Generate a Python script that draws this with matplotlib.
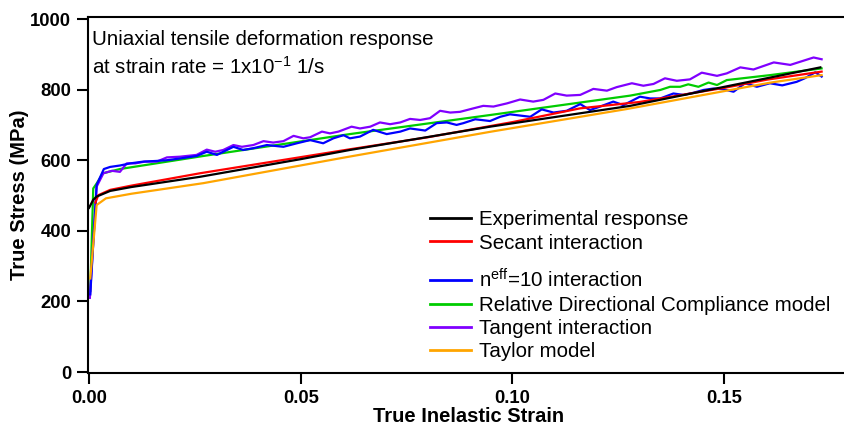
import matplotlib
matplotlib.use("Agg")
import matplotlib.pyplot as plt
from matplotlib.ticker import FixedLocator, FormatStrFormatter

plt.rcParams['font.family'] = ['Liberation Sans', 'DejaVu Sans']
plt.rcParams['mathtext.fontset'] = 'custom'
plt.rcParams['mathtext.rm'] = 'Liberation Sans'
plt.rcParams['mathtext.it'] = 'Liberation Sans'
plt.rcParams['mathtext.bf'] = 'Liberation Sans:bold'

# ---------------- data ----------------
exp_x = [0.0, 0.001, 0.0018, 0.005, 0.01, 0.0262, 0.05, 0.0616, 0.0947, 0.1278, 0.1608, 0.1727]
exp_y = [465, 488, 497, 513, 524, 553, 603, 629, 695, 754, 834, 863]

sec_x = [0.0015, 0.0022, 0.005, 0.01, 0.0262, 0.0616, 0.08, 0.10, 0.116, 0.13, 0.15, 0.16, 0.173]
sec_y = [480, 501, 516, 528, 563, 631, 665, 708, 747, 765, 805, 828, 851]

neff_x = [0.0003, 0.0018, 0.0035, 0.005, 0.0073, 0.0097, 0.0128, 0.016, 0.0184, 0.0215, 0.0254,
          0.0278, 0.0302, 0.0341, 0.0364, 0.0388, 0.0420, 0.0459, 0.0491, 0.0522, 0.0553, 0.0577,
          0.0601, 0.0616, 0.0640, 0.0671, 0.0703, 0.0735, 0.0758, 0.0794, 0.0821, 0.0845, 0.0868,
          0.0884, 0.0912, 0.0947, 0.0971, 0.0994, 0.1042, 0.1069, 0.1097, 0.1128, 0.1160, 0.1183,
          0.1207, 0.1238, 0.1262, 0.1301, 0.1325, 0.1349, 0.1380, 0.1404, 0.1427, 0.1451, 0.1474,
          0.1498, 0.1522, 0.1549, 0.1577, 0.1608, 0.1637, 0.1671, 0.1690, 0.1715, 0.1730]
neff_y = [220, 530, 575, 581, 585, 591, 596, 598, 600, 605, 612,
          624, 615, 638, 629, 634, 643, 638, 648, 657, 648, 662,
          671, 662, 667, 686, 674, 681, 690, 684, 705, 707, 700,
          705, 716, 711, 723, 730, 723, 744, 735, 740, 759, 742,
          752, 766, 756, 780, 775, 775, 789, 785, 791, 799, 803,
          801, 794, 818, 808, 818, 812, 822, 832, 849, 837]

rdc_x = [0.0003, 0.001, 0.0018, 0.0033, 0.0073, 0.027, 0.0616, 0.0947, 0.1278, 0.1349, 0.1372,
         0.1396, 0.1415, 0.1439, 0.1463, 0.1483, 0.1506, 0.1608, 0.173]
rdc_y = [230, 520, 534, 563, 575, 612, 674, 728, 783, 799, 808,
         808, 815, 808, 820, 813, 827, 841, 860]

tan_x = [0.0002, 0.0018, 0.0034, 0.0054, 0.0073, 0.0089, 0.0109, 0.0132, 0.016, 0.0184, 0.0215,
         0.0254, 0.0278, 0.0298, 0.0317, 0.0341, 0.0361, 0.0388, 0.0412, 0.0435, 0.0459, 0.0483,
         0.0506, 0.0522, 0.055, 0.0569, 0.0589, 0.0620, 0.0640, 0.0664, 0.0687, 0.0711, 0.0735,
         0.0758, 0.0782, 0.0805, 0.0829, 0.0853, 0.0876, 0.0908, 0.0931, 0.0955, 0.0987, 0.1018,
         0.1049, 0.1073, 0.1101, 0.1128, 0.1160, 0.1191, 0.1223, 0.1246, 0.1282, 0.1309, 0.1333,
         0.1360, 0.1388, 0.1419, 0.1447, 0.1483, 0.1506, 0.1538, 0.1569, 0.1617, 0.1656, 0.1711,
         0.1730]
tan_y = [210, 525, 563, 570, 567, 591, 591, 596, 596, 608, 610,
         615, 630, 624, 629, 643, 638, 643, 654, 650, 654, 669,
         662, 665, 681, 676, 681, 695, 690, 695, 707, 702, 707,
         717, 714, 719, 740, 735, 737, 747, 754, 752, 761, 772,
         766, 771, 789, 783, 785, 802, 797, 807, 818, 811, 816,
         832, 825, 829, 848, 839, 846, 863, 857, 877, 870, 891,
         886]

tay_x = [0.0003, 0.0018, 0.004, 0.01, 0.027, 0.06, 0.095, 0.127, 0.161, 0.173]
tay_y = [265, 473, 492, 505, 535, 607, 681, 745, 820, 841]

labels = ["Experimental response", "Secant interaction",
          r"n$^{\mathregular{eff}}$=10 interaction",
          "Relative Directional Compliance model", "Tangent interaction", "Taylor model"]
colors = ["#000000", "#ff0000", "#0000ff", "#00cc00", "#8000ff", "#ffa500"]

xticks = [0.00, 0.05, 0.10, 0.15]
yticks = [0, 200, 400, 600, 800, 1000]

# ---------------- figure ----------------
W, H = 845, 426
fig = plt.figure(figsize=(W / 100, H / 100), dpi=100)
ax_l, ax_r, ax_t, ax_b = 88, 850, 17, 373
ax = fig.add_axes([ax_l / W, 1 - ax_b / H, (ax_r - ax_l) / W, (ax_b - ax_t) / H])

series = [(exp_x, exp_y), (sec_x, sec_y), (neff_x, neff_y), (rdc_x, rdc_y), (tan_x, tan_y), (tay_x, tay_y)]
handles = [None] * 6
for i in [3, 4, 2, 5, 1, 0]:
    xs, ys = series[i]
    (ln,) = ax.plot(xs, ys, color=colors[i], lw=1.6, label=labels[i], solid_joinstyle='round')
    handles[i] = ln

ax.set_xlim(-0.00024, 0.1797)
ax.set_ylim(-2.8, 1005.7)
ax.xaxis.set_major_locator(FixedLocator(xticks))
ax.yaxis.set_major_locator(FixedLocator(yticks))
ax.xaxis.set_major_formatter(FormatStrFormatter('%.2f'))
ax.yaxis.set_major_formatter(FormatStrFormatter('%d'))
ax.tick_params(axis='both', direction='out', length=8, width=1.5, labelsize=13.3, pad=4)
for lab in ax.get_xticklabels() + ax.get_yticklabels():
    lab.set_fontweight('bold')
for s in ax.spines.values():
    s.set_linewidth(1.5)
ax.spines['right'].set_visible(False)

ax.set_xlabel("True Inelastic Strain", fontsize=14.5, fontweight='bold', labelpad=0)
ax.set_ylabel("True Stress (MPa)", fontsize=14.5, fontweight='bold', labelpad=1)

FS = 14.8
ax.text(0.0053, 0.921, "Uniaxial tensile deformation response", transform=ax.transAxes,
        fontsize=FS, va='baseline', ha='left')
ax.text(0.0053, 0.840, r"at strain rate = 1x10$^{\mathregular{-1}}$ 1/s", transform=ax.transAxes,
        fontsize=FS, va='baseline', ha='left')


def yfrac(py):
    return (ax_b - py) / (ax_b - ax_t)


xleg = (430 - ax_l) / (ax_r - ax_l)
legA = ax.legend(handles=handles[:2], labels=labels[:2], loc='upper left',
                 bbox_to_anchor=(xleg, yfrac(210)),
                 frameon=False, fontsize=FS, handlelength=2.0, handletextpad=0.4,
                 labelspacing=0.22, borderaxespad=0, borderpad=0)
ax.add_artist(legA)
legB = ax.legend(handles=handles[2:], labels=labels[2:], loc='lower left',
                 bbox_to_anchor=(xleg, yfrac(361)),
                 frameon=False, fontsize=FS, handlelength=2.0, handletextpad=0.4,
                 labelspacing=0.2, borderaxespad=0, borderpad=0)
for lg in (legA, legB):
    for lh in lg.get_lines():
        lh.set_linewidth(2.0)

fig.savefig("out.png", dpi=100)
